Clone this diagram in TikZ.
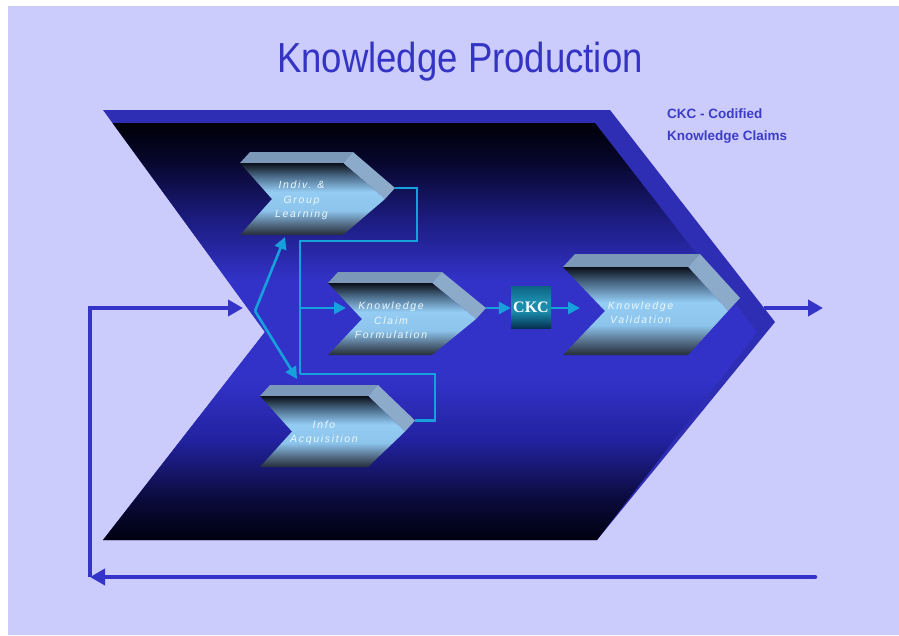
\documentclass[tikz,border=0pt]{standalone}
\usepackage{fontspec}
\setmainfont{Liberation Sans}
\newfontfamily\ckcfont{Liberation Serif}
\usetikzlibrary{arrows.meta}
\definecolor{bg}{HTML}{CCCCFC}
\definecolor{darkblue}{HTML}{3434C8}
\definecolor{titleblue}{HTML}{3434C4}
\definecolor{legendblue}{HTML}{3C3CC8}
\definecolor{bevel}{HTML}{2E2EB4}
\definecolor{cyanline}{HTML}{16A0DC}
\definecolor{topstrip}{HTML}{7C98B8}
\definecolor{sidestrip}{HTML}{8CAACA}
\definecolor{bfa}{HTML}{000010}
\definecolor{bfb}{HTML}{0A0A3A}
\definecolor{bfc}{HTML}{2222A0}
\definecolor{bfd}{HTML}{3232C8}
\definecolor{bfe}{HTML}{1C1C80}
\definecolor{bff}{HTML}{06062A}
\definecolor{bfg}{HTML}{000008}
\definecolor{sfa}{HTML}{252D3A}
\definecolor{sfb}{HTML}{56708A}
\definecolor{sfc}{HTML}{8CC4EC}
\definecolor{sfd}{HTML}{94CCF4}
\definecolor{sfe}{HTML}{4A6A88}
\definecolor{sff}{HTML}{0A0F18}
\definecolor{cka}{HTML}{063252}
\definecolor{ckb}{HTML}{1A8CAC}
\definecolor{ckc}{HTML}{0E6282}
\pgfdeclareverticalshading{bigface}{100bp}{color(0bp)=(bfa); color(25bp)=(bfa); color(29.8bp)=(bfb); color(37bp)=(bfc); color(44.2bp)=(bfd); color(56.2bp)=(bfd); color(63.4bp)=(bfe); color(70.6bp)=(bff); color(75bp)=(bfg); color(100bp)=(bfg)}
\pgfdeclareverticalshading{smallface}{100bp}{color(0bp)=(sfa); color(25bp)=(sfa); color(33bp)=(sfb); color(42bp)=(sfc); color(55bp)=(sfd); color(66bp)=(sfe); color(75bp)=(sff); color(100bp)=(sff)}
\pgfdeclareverticalshading{ckcshade}{100bp}{color(0bp)=(cka); color(25bp)=(cka); color(45bp)=(ckb); color(58bp)=(ckb); color(75bp)=(ckc); color(100bp)=(ckc)}
\tikzset{
  chevtext/.style={text=white!92!cyan, align=center, inner sep=0pt,
    font=\itshape\fontsize{10.5}{14.5}\selectfont\addfontfeatures{LetterSpace=16}},
  topface/.style={fill=topstrip},
  sideface/.style={fill=sidestrip},
  cyanarrow/.style={draw=cyanline, line width=2.6pt, -{Triangle[length=12pt,width=12pt]}},
  cyanline/.style={draw=cyanline, line width=2.6pt},
  bluearrow/.style={draw=darkblue, line width=4.5pt, -{Triangle[length=15pt,width=16pt]}},
  ckcbox/.style={shading=ckcshade, shade, minimum width=40pt, minimum height=42pt, inner sep=0pt,
    text=white, font=\ckcfont\bfseries\fontsize{16}{16}\selectfont},
}
\def\kchevron#1#2#3#4#5#6#7#8#9{%
  \pgfmathsetmacro\chmid{(#3+#6)/2}%
  \pgfmathsetmacro\chtx{(#7+#4)/2-6}%
  \fill[topface] (#2,#3) -- (#4,#3) -- ++(#8,{-#8-1}) -- ({#2+#8},{#3-#8-1}) -- cycle;
  \fill[sideface] (#4,#3) -- ++(#8,{-#8-1}) -- ({#5+#8},{\chmid-#8-1}) -- (#5,\chmid) -- cycle;
  \shade[shading=smallface] (#2,#3) -- (#4,#3) -- (#5,\chmid) -- (#4,#6) -- (#2,#6) -- (#7,\chmid) -- cycle;
  \coordinate (#1-out) at ({#5+#8},{\chmid-#8-1});
  \node[chevtext] (#1) at (\chtx,{\chmid+1.5}) {#9};
}
\begin{document}
\begin{tikzpicture}[x=1pt,y=-1pt]
\useasboundingbox (0,0) rectangle (899,635);
\fill[white] (0,0) rectangle (899,635);
\fill[bg] (8,6) rectangle (899,635);
% title
\node[text=titleblue, font=\fontsize{42}{42}\selectfont, anchor=base] (title) at (460,72) {\scalebox{0.87}[1]{Knowledge Production}};
\node[text=legendblue, font=\bfseries\fontsize{13.5}{22}\selectfont, align=left, anchor=north west, inner sep=0pt] (legend) at (667,109) {CKC - Codified\\Knowledge Claims};
% big chevron
\fill[bevel] (103,110) -- (610,110) -- (775,322) -- (597,540) -- (103,540) -- (265,332) -- cycle;
\shade[shading=bigface] (112.5,123) -- (595,123) -- (757,332) -- (597,540) -- (103,540) -- (265,332) -- cycle;
\coordinate (big-out) at (764,308);
\coordinate (big-in) at (243,308);
\coordinate (out-end) at (823,308);
\coordinate (fb-start) at (815,577);
\coordinate (fb-corner) at (90,577);
% small chevrons
\kchevron{learn}{240}{163}{343}{385}{235}{272}{10}{Indiv. \&\\Group\\Learning}
\kchevron{kcf}{328}{283}{432}{476}{355}{362}{10}{Knowledge\\Claim\\Formulation}
\kchevron{info}{260}{396}{368}{405}{467}{292}{10}{Info\\Acquisition}
\kchevron{val}{563}{267}{688}{728}{355}{605}{12}{Knowledge\\Validation}
\node[ckcbox] (ckc) at (531,307) {CKC};
% coordinates for connectors
\coordinate (split) at (255,311);
\coordinate (learn-in) at (285,237);
\coordinate (info-in) at (297,379);
\coordinate (kcf-in) at (346,308);
\coordinate (bus-top) at (300,241);
\coordinate (bus-bot) at (300,374);
\coordinate (bus-mid) at (300,308);
\coordinate (val-in) at (580,308);
% cyan connectors
\draw[cyanarrow] (split) -- (learn-in);
\draw[cyanarrow] (split) -- (info-in);
\draw[cyanline, line join=miter] (learn-out) -- (417,188) -- (417,241) -- (bus-top) -- (bus-bot);
\draw[cyanline, line join=miter] (info-out) -- (435,420.5) -- (435,374) -- (bus-bot);
\draw[cyanarrow] (bus-mid) -- (kcf-in);
\draw[cyanarrow] (kcf-out) -- (kcf-out -| ckc.west);
\draw[cyanarrow] (ckc.east |- kcf-out) -- (val-in);
% blue arrows
\draw[bluearrow] (big-out) -- (out-end);
\draw[bluearrow, line cap=round] (fb-start) -- (fb-corner);
\draw[bluearrow, line join=miter] (fb-corner) |- (big-in);
\end{tikzpicture}
\end{document}
